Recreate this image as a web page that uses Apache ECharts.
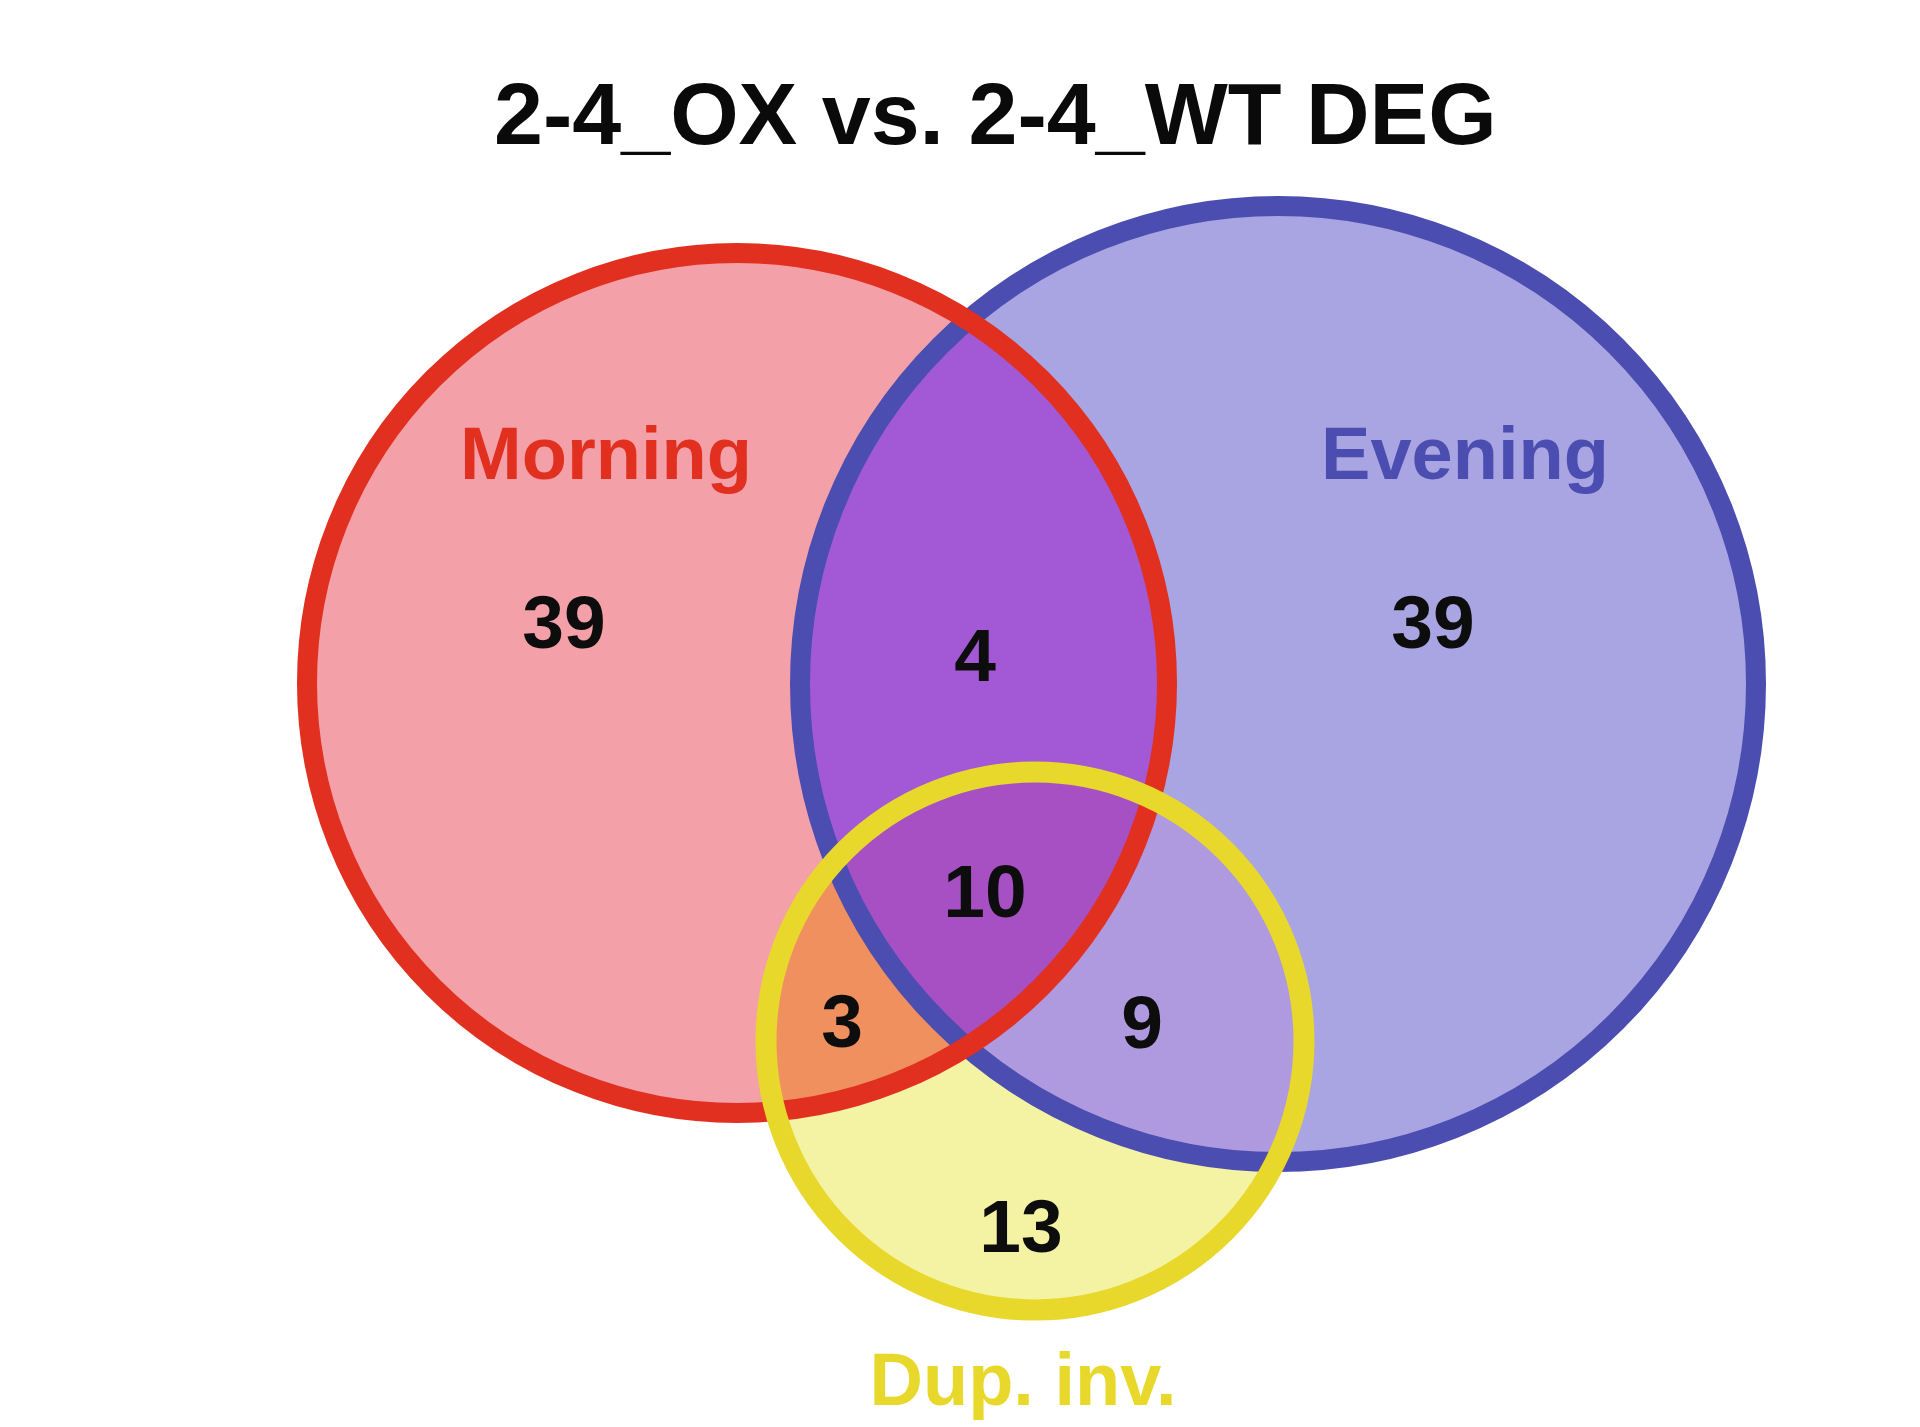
<!DOCTYPE html>
<html>
<head>
<meta charset="utf-8">
<title>2-4_OX vs. 2-4_WT DEG</title>
<script src="https://cdn.jsdelivr.net/npm/echarts@6/dist/echarts.min.js"></script>
<style>
  html, body { margin: 0; padding: 0; background: #fff; }
  #chart { width: 1920px; height: 1427px; }
</style>
</head>
<body>
<div id="chart"></div>
<script>
// sets: Morning, Evening, Dup. inv.
var setNames = ['Morning', 'Evening', 'Dup. inv.'];
var setCenterX = [737, 1278, 1035];
var setCenterY = [683, 684, 1041];
var setRadius = [430, 478, 269];
var setLabelX = [606, 1465, 1023];
var setLabelY = [459, 459, 1385];

// regions of the diagram (indexes into the sets) and their counts
var regionSets = [[0], [1], [2], [0, 1], [0, 2], [1, 2], [0, 1, 2]];
var regionCounts = [39, 39, 13, 4, 3, 9, 10];
var regionLabelX = [564, 1433, 1021, 975, 842, 1142, 985];
var regionLabelY = [627, 627, 1231, 660, 1026, 1027, 896];

var setStroke = ['#e1301f', '#4b4eb0', '#e8d82c'];
var regionFill = ['#f4a0a8', '#a9a4e2', '#f3f3a3', '#a359d6', '#ef905e', '#af9ae0', '#a650c4'];
var strokeOrder = [1, 0, 2];

var myChart = echarts.init(document.getElementById('chart'));
var font = '"Liberation Sans", Arial, Helvetica, sans-serif';

function toPixel(api, i) {
    var c = api.coord([setCenterX[i], setCenterY[i]]);
    var r = api.size([setRadius[i], 0])[0];
    return { x: c[0], y: c[1], r: r };
}

function inside(p, c) {
    var dx = p[0] - c.x, dy = p[1] - c.y;
    return dx * dx + dy * dy <= c.r * c.r + 0.5;
}

function renderRegion(params, api) {
    var k = api.value(0);
    var members = regionSets[k];
    var circles = members.map(function (i) { return toPixel(api, i); });
    var style = { fill: regionFill[k], stroke: null };
    if (circles.length === 1) {
        return { type: 'circle', shape: { cx: circles[0].x, cy: circles[0].y, r: circles[0].r }, style: style };
    }
    // outline of the intersection of the circles
    var pts = [];
    var n = 1440;
    circles.forEach(function (c, a) {
        for (var s = 0; s < n; s++) {
            var t = s / n * Math.PI * 2;
            var p = [c.x + c.r * Math.cos(t), c.y + c.r * Math.sin(t)];
            var ok = true;
            circles.forEach(function (o, b) {
                if (b !== a && !inside(p, o)) ok = false;
            });
            if (ok) pts.push(p);
        }
    });
    var mx = 0, my = 0;
    pts.forEach(function (p) { mx += p[0]; my += p[1]; });
    mx /= pts.length; my /= pts.length;
    pts.sort(function (p, q) {
        return Math.atan2(p[1] - my, p[0] - mx) - Math.atan2(q[1] - my, q[0] - mx);
    });
    return { type: 'polygon', shape: { points: pts }, style: style };
}

function renderOutline(params, api) {
    var i = strokeOrder[params.dataIndex];
    var c = toPixel(api, i);
    return {
        type: 'circle',
        shape: { cx: c.x, cy: c.y, r: c.r },
        style: { fill: 'none', stroke: setStroke[i], lineWidth: i === 2 ? 21 : 20 }
    };
}

var option = {
    animation: false,
    backgroundColor: '#ffffff',
    title: {
        text: '2-4_OX vs. 2-4_WT DEG',
        left: 494,
        top: 76,
        padding: 0,
        textStyle: {
            fontFamily: font,
            fontWeight: 'bold',
            fontSize: 88,
            lineHeight: 88,
            color: '#0a0a0a'
        }
    },
    grid: { left: 0, right: 0, top: 0, bottom: 0 },
    xAxis: { type: 'value', min: 0, max: 1920, show: false },
    yAxis: { type: 'value', min: 0, max: 1427, inverse: true, show: false },
    series: [
        {
            name: 'regions',
            type: 'custom',
            z: 1,
            clip: false,
            renderItem: renderRegion,
            data: regionSets.map(function (s, k) { return [k]; })
        },
        {
            name: 'outlines',
            type: 'custom',
            z: 2,
            clip: false,
            renderItem: renderOutline,
            data: strokeOrder.map(function (i) { return [setCenterX[i], setCenterY[i], setRadius[i]]; })
        },
        {
            name: 'counts',
            type: 'scatter',
            z: 3,
            symbolSize: 0,
            itemStyle: { opacity: 1, color: '#ffffff' },
            label: {
                show: true,
                position: 'inside',
                formatter: function (p) { return p.value[2]; },
                fontFamily: font,
                fontWeight: 'bold',
                fontSize: 75,
                color: '#0d0d0d',
                opacity: 1
            },
            data: regionCounts.map(function (c, k) { return [regionLabelX[k], regionLabelY[k], c]; })
        },
        {
            name: 'set names',
            type: 'scatter',
            z: 3,
            symbolSize: 0,
            itemStyle: { opacity: 1, color: '#ffffff' },
            label: {
                show: true,
                position: 'inside',
                formatter: '{b}',
                fontFamily: font,
                fontWeight: 'bold',
                fontSize: 74,
                opacity: 1
            },
            data: setNames.map(function (nm, i) {
                return { name: nm, value: [setLabelX[i], setLabelY[i]], label: { color: setStroke[i] } };
            })
        }
    ]
};
myChart.setOption(option);
</script>
</body>
</html>
